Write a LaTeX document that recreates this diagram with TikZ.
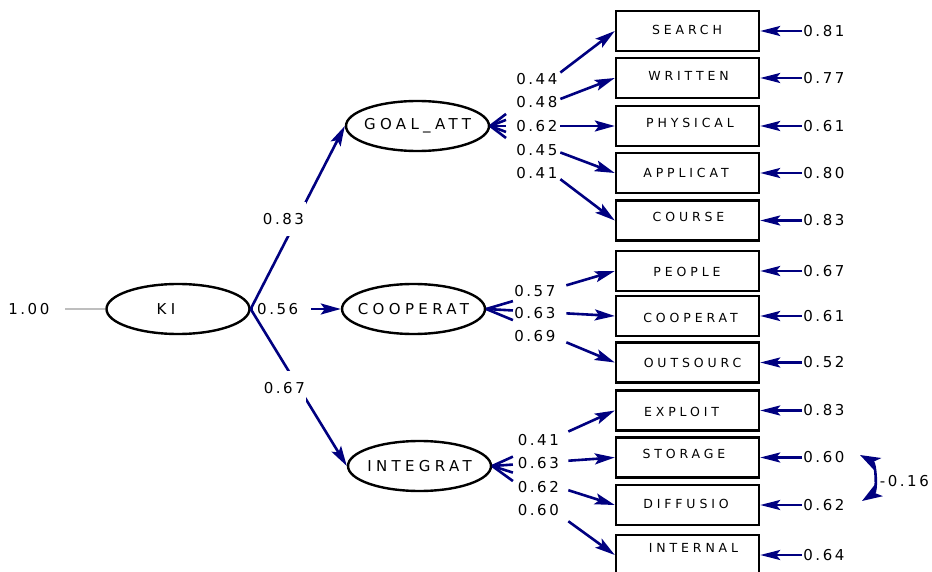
\documentclass[tikz,border=0pt]{standalone}
\usepackage{fontspec}
\setmainfont{DejaVu Sans}
\newfontfamily\numfont[LetterSpace=17]{DejaVu Sans}
\newfontfamily\boxfont[LetterSpace=31]{DejaVu Sans}
\newfontfamily\latfont[LetterSpace=29]{DejaVu Sans}
\usetikzlibrary{positioning,arrows.meta,shapes.geometric,calc}
\definecolor{lisblue}{RGB}{0,0,128}
\definecolor{fixgray}{RGB}{190,190,190}

\tikzset{
  latent/.style={draw, ellipse, line width=2.4pt, minimum width=143pt, minimum height=50pt, inner sep=0pt},
  lattext/.style={font=\latfont\fontsize{15}{18}\selectfont},
  ind/.style={draw, rectangle, line width=2.4pt, minimum width=143pt, minimum height=40pt, inner sep=0pt},
  indtext/.style={font=\boxfont\fontsize{12.5}{14}\selectfont},
  coef/.style={font=\numfont\fontsize{15}{18}\selectfont, inner sep=1pt},
  mask/.style={coef, fill=white, minimum width=44pt, minimum height=34pt},
  link/.style={draw=lisblue, line width=2.6pt},
  head/.style={link, -{Stealth[length=20pt,width=11pt,inset=4pt]}},
  errhead/.style={link, -{Stealth[length=20pt,width=10pt,inset=4pt]}},
}

\begin{document}
\begin{tikzpicture}[x=1pt, y=-1pt]
  \useasboundingbox (0,0) rectangle (932,572);
  % latent variables
  \node[latent, label={[lattext, xshift=-12pt]center:KI}] (ki) at (178,309) {};
  \node[latent, label={[lattext]center:GOAL\_ATT}] (goal) at (417.5,126) {};
  \node[latent, label={[lattext]center:COOPERAT}] (coop) at (413.5,309) {};
  \node[latent, label={[lattext]center:INTEGRAT}] (integ) at (419.5,466) {};
  % observed variables
  \foreach \n/\y/\dx/\dy/\t in {search/31/-0.5/-1.5/SEARCH, written/78/1/-2/WRITTEN,
      physical/126/2.5/-3/PHYSICAL, applicat/173/-1.5/-0.5/APPLICAT, course/220.5/1/-3.5/COURSE,
      people/271/-0.5/0.5/PEOPLE, coopind/316/3/1.5/COOPERAT, outsourc/362.5/5/0.5/OUTSOURC,
      exploit/410.5/-6/1/EXPLOIT, storage/457.5/-3.5/-4/STORAGE, diffusio/505/-1.5/-1.5/DIFFUSIO,
      internal/555/6/-7.5/INTERNAL} {
    \node[ind, label={[indtext, shift={(\dx,\dy)}]center:\t}] (\n) at (687.5,\y) {};
  }
  % error variances
  \foreach \n/\v in {search/0.81, written/0.77, physical/0.61, applicat/0.80, course/0.83,
      people/0.67, coopind/0.61, outsourc/0.52, exploit/0.83, storage/0.60, diffusio/0.62,
      internal/0.64} {
    \node[coef, anchor=west] (e\n) at ([xshift=42pt]\n.east) {\v};
    \draw[errhead] (e\n.west) -- (\n.east);
  }
  % loadings
  \foreach \b in {search,written,physical,applicat,course} {
    \draw[link] (goal.east) -- ($(goal.east)!0.127!(\b.west)$);
    \draw[head] ($(goal.east)!0.563!(\b.west)$) -- (\b.west);
  }
  \foreach \b in {people,coopind,outsourc} {
    \draw[link] (coop.east) -- ($(coop.east)!0.208!(\b.west)$);
    \draw[head] ($(coop.east)!0.623!(\b.west)$) -- (\b.west);
  }
  \foreach \b in {exploit,storage,diffusio,internal} {
    \draw[link] (integ.east) -- ($(integ.east)!0.169!(\b.west)$);
    \draw[head] ($(integ.east)!0.621!(\b.west)$) -- (\b.west);
  }
  \foreach \v/\y [count=\i] in {0.44/79.5, 0.48/102.5, 0.62/126.5, 0.45/150.5, 0.41/173.5}
    \node[coef] (lg\i) at (536.8,\y) {\v};
  \foreach \v/\y [count=\i] in {0.57/291.5, 0.63/313, 0.69/336.5}
    \node[coef] (lc\i) at (534.8,\y) {\v};
  \foreach \v/\y [count=\i] in {0.41/440, 0.63/463.5, 0.62/487.5, 0.60/510.5}
    \node[coef] (li\i) at (538.3,\y) {\v};
  % second order paths
  \draw[head] (ki.east) -- (coop.west);
  \node[coef, fill=white, anchor=west, text width=50pt, inner xsep=4pt, align=left] (k2) at (253,309) {0.56};
  \draw[head] (ki.east) -- (goal.west);
  \node[mask] (k1) at (283.5,219.5) {0.83};
  \draw[head] (ki.east) -- (integ.west);
  \node[mask] (k3) at (284.3,388) {0.67};
  % fixed variance
  \node[coef] (kivar) at (28.8,309) {1.00};
  \coordinate (kifix) at (65,309);
  \draw[fixgray, line width=2.4pt] (kifix) -- (ki.west);
  % error covariance
  \coordinate (c1) at (860,455);
  \coordinate (c2) at (862,501);
  \draw[link, {Stealth[length=20pt,width=14pt,inset=5pt]}-{Stealth[length=20pt,width=14pt,inset=5pt]}]
    (c1) to[bend left=60] (c2);
  \node[coef] (corr) at (904.3,481) {-0.16};
\end{tikzpicture}
\end{document}
